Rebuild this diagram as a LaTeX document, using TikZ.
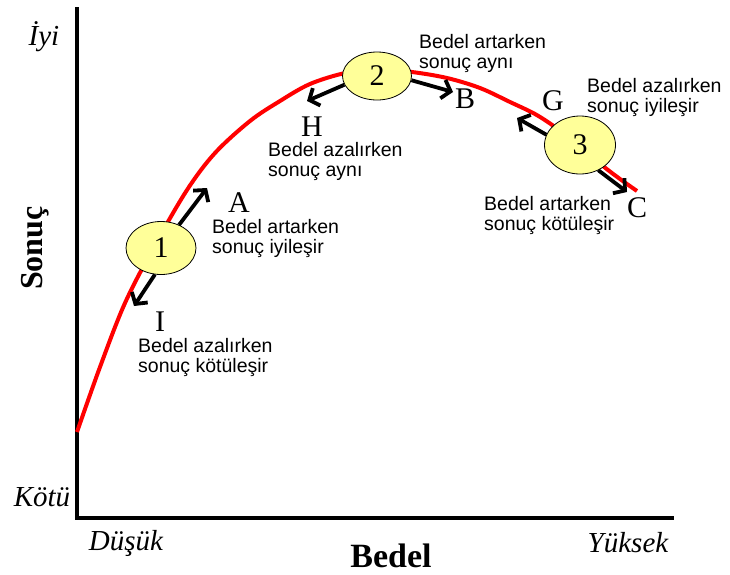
\documentclass[tikz,border=0pt]{standalone}
\usepackage{fontspec}
\setmainfont{Liberation Serif}
\newfontfamily\arialf{Liberation Sans}
\usetikzlibrary{arrows.meta,shapes.geometric}
\definecolor{bubble}{RGB}{255,255,153}
\tikzset{
  axis/.style={line width=3.5pt, line cap=rect},
  curve/.style={line width=4pt, red},
  arr/.style={line width=3.8pt, -{Straight Barb[length=8pt,width=19pt]}},
  bub/.style={ellipse, draw=black, line width=0.8pt, fill=bubble, inner sep=0pt, font=\fontsize{30}{32}\selectfont},
  lett/.style={font=\fontsize{30}{32}\selectfont, inner sep=0pt},
  note/.style={font=\arialf\fontsize{19.5}{20}\selectfont, align=left, anchor=west, inner sep=0pt},
  axlab/.style={font=\itshape\fontsize{29}{30}\selectfont, inner sep=0pt}
}
\begin{document}
\begin{tikzpicture}[x=1pt,y=-1pt]
\useasboundingbox (0,0) rectangle (730,574);
% axes
\coordinate (ytop) at (77,9);
\coordinate (orig) at (77,518);
\coordinate (xend) at (672,518);
\draw[axis] (ytop) -- (orig) -- (xend);
% curve
\draw[curve] plot[smooth, tension=0.55] coordinates {(77,432) (100,367) (125,303) (155,245) (187,190) (215,153) (250,121) (280,101) (310,84) (345,73) (377,69) (412,72) (447,78) (480,88) (510,102) (535,114) (555,127) (580,146) (603,166) (620,179) (637,191)};
% bubbles
\node[bub, minimum width=70pt, minimum height=53pt] (e1) at (161,248) {1};
\node[bub, minimum width=69pt, minimum height=48pt] (e2) at (377,76) {2};
\node[bub, minimum width=71pt, minimum height=58pt] (e3) at (580,145) {3};
% arrow tips
\coordinate (tA) at (207,188);
\coordinate (tI) at (134,306);
\coordinate (tH) at (307,101);
\coordinate (tB) at (453,92);
\coordinate (tG) at (517,118);
\coordinate (tC) at (627,192);
\draw[arr] (e1.52) -- (tA);
\draw[arr] (e1.257) -- (tI);
\draw[arr] (e2.195) -- (tH);
\draw[arr] (e2.353) -- (tB);
\draw[arr] (e3.163) -- (tG);
\draw[arr] (e3.306) -- (tC);
% letters
\node[lett] (lA) at (239,203) {A};
\node[lett] (lI) at (160,322) {I};
\node[lett] (lH) at (312,127) {H};
\node[lett] (lB) at (465,99) {B};
\node[lett] (lG) at (553,101) {G};
\node[lett] (lC) at (637,208) {C};
% notes
\node[note] (nA) at (212,238) {Bedel artarken\\sonuç iyileşir};
\node[note] (nI) at (138,357) {Bedel azalırken\\sonuç kötüleşir};
\node[note] (nH) at (268,161) {Bedel azalırken\\sonuç aynı};
\node[note] (nB) at (419,53) {Bedel artarken\\sonuç aynı};
\node[note] (nG) at (587,97) {Bedel azalırken\\sonuç iyileşir};
\node[note] (nC) at (484,215) {Bedel artarken\\sonuç kötüleşir};
% axis labels
\node[axlab] (iyi) at (44,37) {İyi};
\node[axlab] (kotu) at (42,497) {Kötü};
\node[axlab] (dusuk) at (126,543) {Düşük};
\node[axlab] (yuksek) at (628,543) {Yüksek};
\node[font=\bfseries\fontsize{34}{36}\selectfont, inner sep=0pt] (bedel) at (391,556) {Bedel};
\node[font=\bfseries\fontsize{32}{34}\selectfont, inner sep=0pt, rotate=90] (sonuc) at (35,248) {Sonuç};
\end{tikzpicture}
\end{document}
